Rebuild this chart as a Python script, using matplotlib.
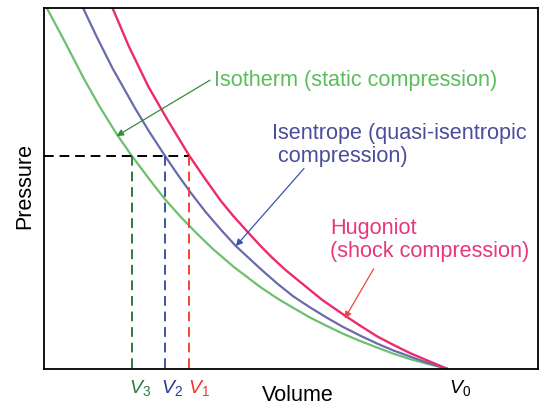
import matplotlib
matplotlib.use("Agg")
from matplotlib import pyplot as plt

plt.rcParams['font.family'] = ['Liberation Sans', 'DejaVu Sans']
plt.rcParams['mathtext.fontset'] = 'custom'
plt.rcParams['mathtext.it'] = 'Liberation Sans:italic'
plt.rcParams['mathtext.rm'] = 'Liberation Sans'

# volume in units of V0, pressure in arbitrary units
iso_v = [0.007, 0.05, 0.10, 0.139, 0.18, 0.2176, 0.263, 0.30, 0.34, 0.38, 0.419, 0.47,
         0.536, 0.58, 0.618, 0.66, 0.701, 0.74, 0.784, 0.826, 0.866, 0.91, 0.95, 1.0]
iso_p = [100, 91.0, 80.2, 72.5, 65.1, 59.05, 52.3, 47.0, 42.0, 37.4, 33.2, 28.3,
         22.7, 19.4, 16.9, 14.2, 11.9, 9.8, 7.7, 5.9, 4.2, 2.6, 1.4, 0]

isen_v = [0.097, 0.13, 0.17, 0.226, 0.26, 0.300, 0.33, 0.362, 0.40, 0.44, 0.476, 0.541,
          0.58, 0.618, 0.66, 0.701, 0.74, 0.784, 0.826, 0.866, 0.91, 0.95, 1.0]
isen_p = [100, 92.2, 83.3, 72.2, 65.9, 59.05, 54.1, 49.1, 43.6, 38.4, 34.0, 27.3,
          23.5, 20.1, 17.0, 14.2, 11.7, 9.2, 7.0, 5.1, 3.3, 1.7, 0]

hug_v = [0.170, 0.21, 0.259, 0.308, 0.3605, 0.40, 0.439, 0.47, 0.503, 0.535, 0.566, 0.60,
         0.635, 0.69, 0.743, 0.785, 0.826, 0.867, 0.908, 0.955, 1.0]
hug_p = [100, 89.5, 78.2, 68.7, 59.05, 52.6, 46.5, 42.3, 38.2, 34.3, 30.8, 27.3,
         24.1, 19.1, 15.0, 11.9, 9.0, 6.6, 4.35, 2.1, 0]

p_star = 59.05
v_marks = [0.2176, 0.300, 0.3605]   # V3, V2, V1
v_names = ["$V_3$", "$V_2$", "$V_1$"]
v0 = 1.0

c_iso, c_isen, c_hug = "#6cc070", "#6a6aae", "#ec2b6e"
c_dash = ["#2e7a3a", "#3a55a8", "#f0453a"]
c_lab = ["#2e7a3a", "#2e3a8a", "#f0352a"]

fig = plt.figure(figsize=(5.44, 4.05), dpi=100)
ax = fig.add_axes([0.0809, 0.0896, 0.9075, 0.8906])

ax.plot(iso_v, iso_p, color=c_iso, lw=1.6)
ax.plot(isen_v, isen_p, color=c_isen, lw=1.6)
ax.plot(hug_v, hug_p, color=c_hug, lw=1.7)

# constant pressure line and the three volumes it picks out
ax.plot([0, v_marks[2]], [p_star, p_star], color="black", lw=1.4, dashes=(5, 3))
for v, c in zip(v_marks, c_dash):
    ax.plot([v, v], [p_star, 0], color=c, lw=1.4, dashes=(5, 3))

for v, name, c, dx in zip(v_marks, v_names, c_lab, [-0.007, -0.010, -0.004]):
    ax.text(v + dx, -2.5, name, color=c, fontsize=14, ha="left", va="top")
ax.text(v0 + 0.004, -2.5, "$V_0$", color="black", fontsize=14, ha="left", va="top")

ax.set_xlim(0, 1.225)
ax.set_ylim(0, 100)
ax.set_xticks([])
ax.set_yticks([])
for s in ax.spines.values():
    s.set_linewidth(1.3)

ax.set_xlabel("Volume", fontsize=15.5)
ax.xaxis.set_label_coords(0.515, -0.045)
ax.set_ylabel("Pressure", fontsize=15.5)
ax.yaxis.set_label_coords(-0.018, 0.507)

# curve labels with pointers
ax.text(0.421, 80.0, "Isotherm (static compression)", color="#5bbd5b",
        fontsize=15.6, ha="left", va="center")
ax.annotate("", xy=(0.180, 64.5), xytext=(0.412, 80.0),
            arrowprops=dict(arrowstyle="-|>", color="#3a8a3a", lw=0.9,
                            mutation_scale=10, shrinkA=0, shrinkB=0))
ax.text(0.565, 61.9, "Isentrope (quasi-isentropic\n compression)", color="#4a4d9a",
        fontsize=15.6, ha="left", va="center", linespacing=1.12)
ax.annotate("", xy=(0.476, 34.0), xytext=(0.645, 55.5),
            arrowprops=dict(arrowstyle="-|>", color="#3a55a8", lw=0.9,
                            mutation_scale=10, shrinkA=0, shrinkB=0))
ax.text(0.710, 35.7, "Hugoniot\n(shock compression)", color="#e8367a",
        fontsize=15.6, ha="left", va="center", linespacing=1.12)
ax.annotate("", xy=(0.746, 13.9), xytext=(0.818, 27.7),
            arrowprops=dict(arrowstyle="-|>", color="#f0453a", lw=0.9,
                            mutation_scale=10, shrinkA=0, shrinkB=0))

fig.savefig("out.png", dpi=100)
